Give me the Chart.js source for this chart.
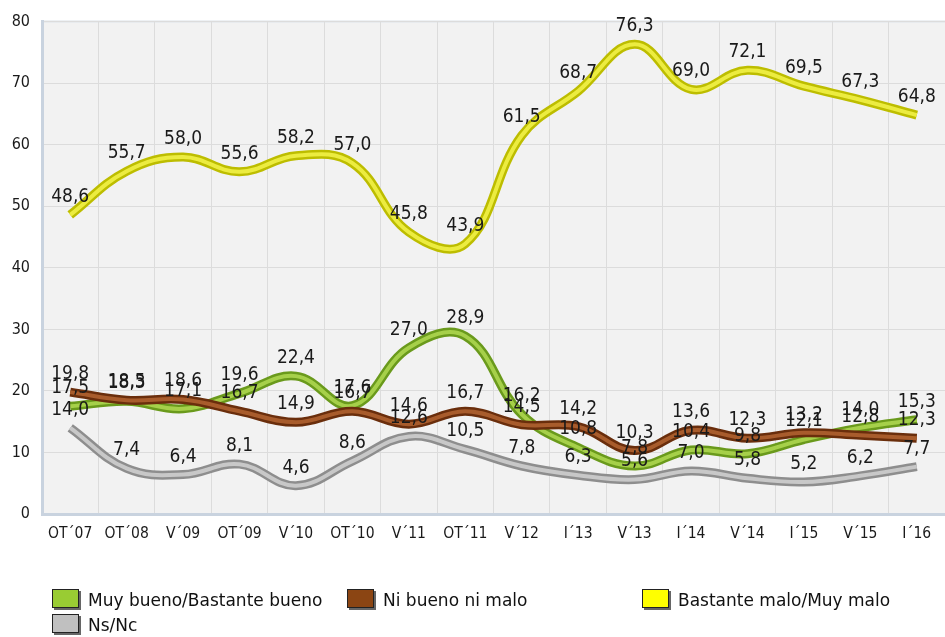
<!DOCTYPE html>
<html><head><meta charset="utf-8">
<script src="https://cdn.jsdelivr.net/npm/chart.js@4"></script>
<style>
html,body{margin:0;padding:0;background:#fff;}
#wrap{position:relative;width:945px;height:637px;}
#c{position:absolute;left:0;top:0;}
.item{position:absolute;font:17px "DejaVu Sans",sans-serif;color:#111;white-space:nowrap;height:20px;line-height:20px;}
.sw{position:absolute;left:0;top:-1px;width:25px;height:17px;border:1px solid #222;box-shadow:2px 2px 0 #666;}
.lbl{position:absolute;left:36px;top:0;}
</style></head><body>
<div id="wrap"><canvas id="c" width="945" height="637"></canvas><div id="legend"></div></div>
<script>
const categories = ["OT´07","OT´08","V´09","OT´09","V´10","OT´10","V´11","OT´11","V´12","I´13","V´13","I´14","V´14","I´15","V´15","I´16"];
const muyBueno   = [17.5,18.3,17.1,19.6,22.4,17.6,27.0,28.9,16.2,10.8,7.8,10.4,9.8,12.1,14.0,15.3];
const niBueno    = [19.8,18.5,18.6,16.7,14.9,16.7,14.6,16.7,14.5,14.2,10.3,13.6,12.3,13.2,12.8,12.3];
const bastanteMalo = [48.6,55.7,58.0,55.6,58.2,57.0,45.8,43.9,61.5,68.7,76.3,69.0,72.1,69.5,67.3,64.8];
const nsnc       = [14.0,7.4,6.4,8.1,4.6,8.6,12.6,10.5,7.8,6.3,5.6,7.0,5.8,5.2,6.2,7.7];
const yTicks = [0,10,20,30,40,50,60,70,80];

const series = [
  {name:"Muy bueno/Bastante bueno", data:muyBueno, dark:"#6a9a1c", light:"#a6d04a", sw:"#99cc33", order:7},
  {name:"Ni bueno ni malo", data:niBueno, dark:"#6a2e0c", light:"#a85c2c", sw:"#8b4513", order:5},
  {name:"Bastante malo/Muy malo", data:bastanteMalo, dark:"#bdbd00", light:"#ecec40", sw:"#ffff00", order:3},
  {name:"Ns/Nc", data:nsnc, dark:"#8e8e8e", light:"#c8c8c8", sw:"#c0c0c0", order:1}
];

const datasets = [];
series.forEach(s=>{
  datasets.push({label:s.name, data:s.data, borderColor:s.dark, borderWidth:9, order:s.order+0.5, pointRadius:0, tension:0.4, fill:false, showLabels:true, borderCapStyle:'butt'});
  datasets.push({label:s.name+"_hl", data:s.data, borderColor:s.light, borderWidth:4, order:s.order, pointRadius:0, tension:0.4, fill:false, borderCapStyle:'butt'});
});

const bgPlugin = {
  id:'bg',
  beforeDraw(chart){
    const {ctx, chartArea:a} = chart;
    ctx.save();
    ctx.fillStyle = '#f2f2f2';
    ctx.fillRect(a.left, a.top, a.right-a.left, a.bottom-a.top);
    ctx.strokeStyle = '#dde3ea';
    ctx.lineWidth = 2;
    ctx.beginPath(); ctx.moveTo(a.left, a.top); ctx.lineTo(a.right, a.top); ctx.stroke();
    ctx.restore();
  }
};
const labelPlugin = {
  id:'vlabels',
  afterDatasetsDraw(chart){
    const ctx = chart.ctx;
    ctx.save();
    ctx.font = '19px "DejaVu Sans Condensed","DejaVu Sans",sans-serif';
    ctx.fillStyle = '#1a1a1a';
    ctx.textAlign = 'center';
    ctx.textBaseline = 'middle';
    chart.data.datasets.forEach((ds,i)=>{
      if(!ds.showLabels) return;
      const meta = chart.getDatasetMeta(i);
      meta.data.forEach((pt,j)=>{
        ctx.fillText(ds.data[j].toFixed(1).replace('.',','), pt.x, pt.y-18);
      });
    });
    ctx.restore();
  }
};

new Chart(document.getElementById('c'), {
  type:'line',
  data:{labels:categories, datasets},
  options:{
    responsive:false, animation:false,
    layout:{padding:{top:19,left:0,right:0,bottom:0}},
    plugins:{legend:{display:false}, tooltip:{enabled:false}},
    scales:{
      x:{
        offset:true,
        grid:{offset:true, color:'#dcdcdc', lineWidth:1, drawTicks:false},
        border:{color:'#c9d3df', width:3},
        ticks:{color:'#1a1a1a', font:{family:'"DejaVu Sans Condensed","DejaVu Sans"', size:15.5}, padding:11, maxRotation:0, autoSkip:false},
        afterFit(s){ s.height = 123; }
      },
      y:{
        min:0, max:80,
        afterBuildTicks(s){ s.ticks = yTicks.map(v=>({value:v})); },
        grid:{color:'#dcdcdc', lineWidth:1, drawTicks:false},
        border:{color:'#c9d3df', width:3},
        ticks:{color:'#1a1a1a', font:{family:'"DejaVu Sans Condensed","DejaVu Sans"', size:16}, padding:12},
        afterFit(s){ s.width = 42; }
      }
    }
  },
  plugins:[bgPlugin, labelPlugin]
});

const legendPos = [[52,590],[347,590],[642,590],[52,615]];
const lg = document.getElementById('legend');
series.forEach((s,i)=>{
  const d = document.createElement('div');
  d.className='item';
  d.style.left = legendPos[i][0]+'px';
  d.style.top = legendPos[i][1]+'px';
  d.innerHTML = '<span class="sw" style="background:'+s.sw+'"></span><span class="lbl">'+s.name+'</span>';
  lg.appendChild(d);
});
</script>
</body></html>
